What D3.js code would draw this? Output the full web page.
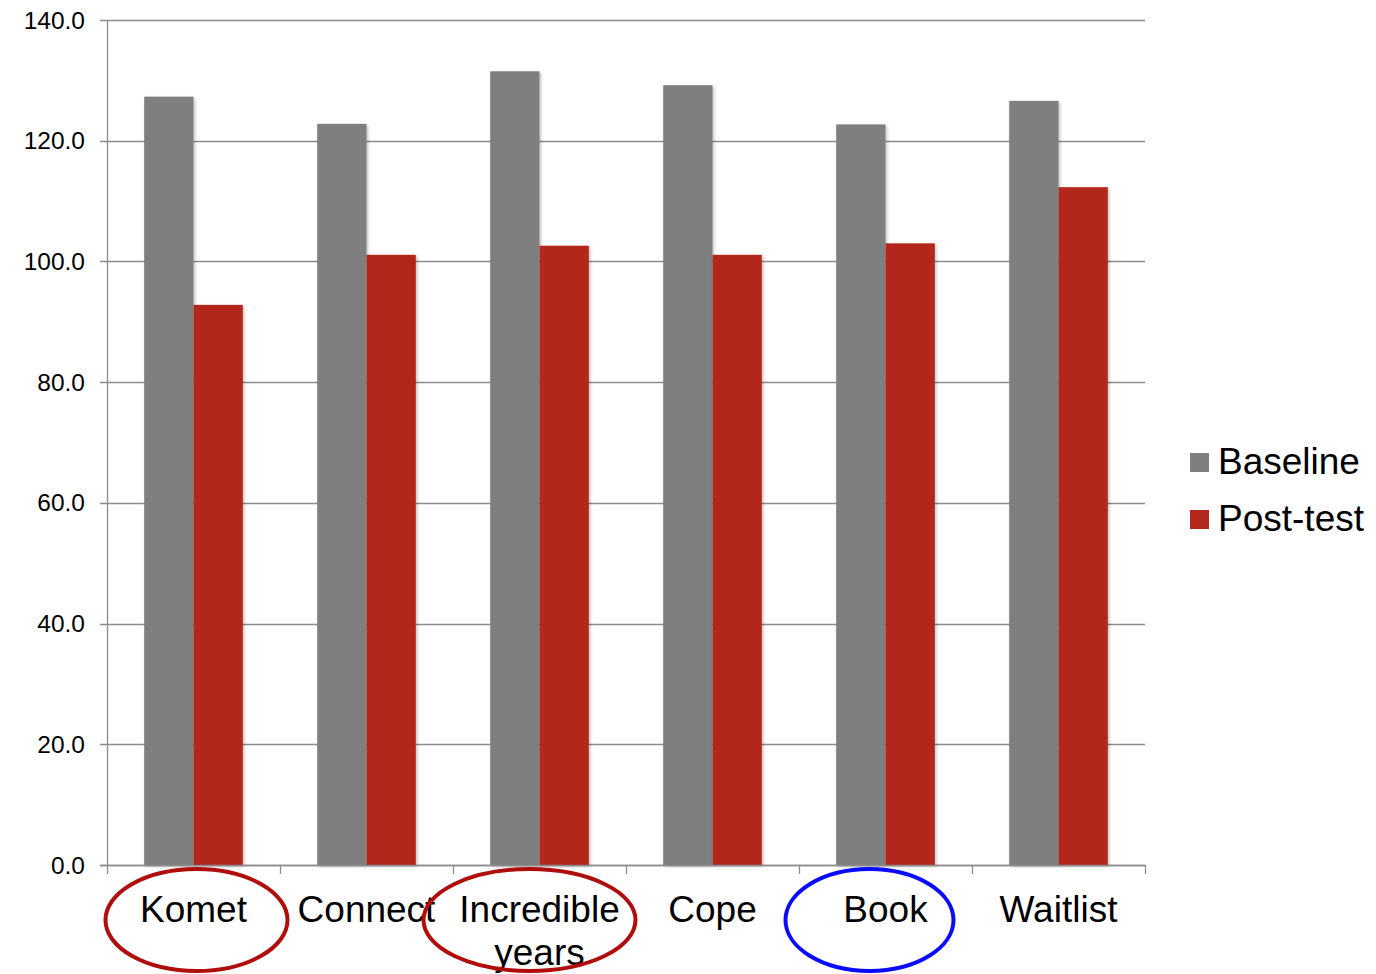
<!DOCTYPE html>
<html>
<head>
<meta charset="utf-8">
<script src="https://cdn.jsdelivr.net/npm/d3@7"></script>
<style>
  html, body { margin: 0; padding: 0; background: #fff; }
  svg { display: block; font-family: "Liberation Sans", Arial, sans-serif; }
</style>
</head>
<body>
<svg id="chart" width="1376" height="974"></svg>
<script>
const categories = ["Komet", "Connect", "Incredible years", "Cope", "Book", "Waitlist"];
const baseline = [127.3, 122.8, 131.5, 129.2, 122.7, 126.6];
const postTest = [92.8, 101.1, 102.6, 101.1, 103.0, 112.3];
const seriesNames = ["Baseline", "Post-test"];
const yTicks = [0, 20, 40, 60, 80, 100, 120, 140];
const circled = [
  { cat: "Komet", color: "#b00d0d", rx: 91, ry: 51, dx: 3 },
  { cat: "Incredible years", color: "#b00d0d", rx: 106, ry: 51, dx: -10 },
  { cat: "Book", color: "#0a0aff", rx: 84, ry: 51, dx: -16 }
];
const colors = ["#7f7f7f", "#b3281a"];

const svg = d3.select("#chart");
const mL = 107, mR = 1145, mT = 20, mB = 865;

const x = d3.scaleBand().domain(categories).range([mL, mR]).paddingInner(0).paddingOuter(0);
const barW = x.bandwidth() * 0.285;
const y = d3.scaleLinear().domain([0, 140]).range([mB, mT]);

const defs = svg.append("defs");
const f = defs.append("filter").attr("id", "sh").attr("x", "-20%").attr("y", "-5%").attr("width", "140%").attr("height", "110%");
f.append("feDropShadow").attr("dx", 1.5).attr("dy", 1.5).attr("stdDeviation", 1.5).attr("flood-color", "#000").attr("flood-opacity", 0.25);

// gridlines
svg.append("g").selectAll("line").data(yTicks).join("line")
  .attr("x1", mL - 7).attr("x2", mR)
  .attr("y1", d => Math.round(y(d)) + 0.5).attr("y2", d => Math.round(y(d)) + 0.5)
  .attr("stroke", "#8c8c8c").attr("stroke-width", 1.3);

// y axis line
svg.append("line").attr("x1", mL + 0.5).attr("x2", mL + 0.5).attr("y1", mT).attr("y2", mB)
  .attr("stroke", "#8c8c8c").attr("stroke-width", 1.3);

// y labels
svg.append("g").selectAll("text").data(yTicks).join("text")
  .attr("x", 85).attr("y", d => y(d) + 8.5)
  .attr("text-anchor", "end").attr("font-size", 24.5).attr("fill", "#000")
  .text(d => d.toFixed(1));

// bars
const data = categories.map((c, i) => ({ c, vals: [baseline[i], postTest[i]] }));
const groups = svg.append("g").selectAll("g").data(data).join("g");
groups.selectAll("rect").data(d => d.vals.map((v, k) => ({ c: d.c, v, k }))).join("rect")
  .attr("x", d => x(d.c) + x.bandwidth() / 2 - barW + d.k * barW)
  .attr("y", d => y(d.v))
  .attr("width", barW)
  .attr("height", d => mB - y(d.v))
  .attr("fill", d => colors[d.k])
  .attr("filter", "url(#sh)");

// bottom axis
svg.append("line").attr("x1", mL - 7).attr("x2", mR).attr("y1", mB + 0.5).attr("y2", mB + 0.5)
  .attr("stroke", "#8c8c8c").attr("stroke-width", 1.3);
const bounds = categories.map(c => x(c)).concat([mR]);
svg.append("g").selectAll("line").data(bounds).join("line")
  .attr("x1", d => Math.round(d) + 0.5).attr("x2", d => Math.round(d) + 0.5)
  .attr("y1", mB).attr("y2", mB + 9)
  .attr("stroke", "#8c8c8c").attr("stroke-width", 1.3);

// category labels
const lab = svg.append("g").selectAll("text").data(categories).join("text")
  .attr("x", d => x(d) + x.bandwidth() / 2)
  .attr("y", 922)
  .attr("text-anchor", "middle").attr("font-size", 37).attr("fill", "#000");
lab.each(function (d) {
  const t = d3.select(this);
  const parts = d === "Incredible years" ? ["Incredible", "years"] : [d];
  parts.forEach((p, i) => {
    t.append("tspan").attr("x", x(d) + x.bandwidth() / 2).attr("dy", i === 0 ? 0 : 43).text(p);
  });
});

// annotation ellipses
svg.append("g").selectAll("ellipse").data(circled).join("ellipse")
  .attr("cx", d => x(d.cat) + x.bandwidth() / 2 + d.dx)
  .attr("cy", 920)
  .attr("rx", d => d.rx).attr("ry", d => d.ry)
  .attr("fill", "none").attr("stroke", d => d.color).attr("stroke-width", 4);

// legend
const lg = svg.append("g").selectAll("g").data(seriesNames).join("g")
  .attr("transform", (d, i) => `translate(1190, ${453 + i * 57})`);
lg.append("rect").attr("width", 19).attr("height", 19).attr("fill", (d, i) => colors[i]);
lg.append("text").attr("x", 28).attr("y", 21).attr("font-size", 37).attr("fill", "#000").text(d => d);
</script>
</body>
</html>
